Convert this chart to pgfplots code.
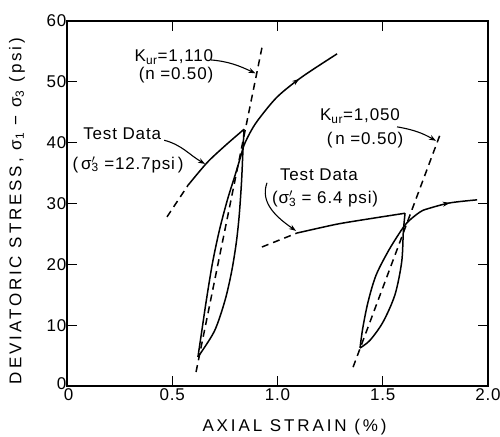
\documentclass[border=0pt]{standalone}
\usepackage{fontspec}
\setmainfont{Liberation Sans}
\newfontfamily\lbl[LetterSpace=17]{Liberation Sans}
\newfontfamily\tck[LetterSpace=5]{Liberation Sans}
\newfontfamily\ann[LetterSpace=5]{Liberation Sans}
\usepackage{pgfplots}
\pgfplotsset{compat=1.18}
\usetikzlibrary{arrows.meta,decorations.markings}
\newcommand\sigp{σ\rlap{$'$}\textsubscript{3}}
\begin{document}
\begin{tikzpicture}
\begin{axis}[
  scale only axis, width=421pt, height=365pt,
  xmin=0,xmax=2,ymin=0,ymax=60,
  xtick={0,0.5,1,1.5,2}, xticklabels={\hspace{3pt}0,0.5,1.0,1.5,2.0},
  ytick={0,10,20,30,40,50,60}, yticklabels={\raisebox{4pt}{0},10,20,30,40,50,60},
  tick align=inside, major tick length=10pt,
  axis line style={line width=1.7pt},
  every tick/.style={black, line width=1.3pt},
  tick label style={font=\tck\fontsize{17}{19}\selectfont},
  xticklabel style={yshift=-2pt},
  xlabel={AXIAL STRAIN (\%)},
  ylabel={DEVIATORIC STRESS, σ\textsubscript{1} − σ\textsubscript{3} (psi)},
  every axis x label/.style={at={(axis description cs:0.5404,-0.1123)}, anchor=center, font=\lbl\fontsize{17}{20}\selectfont},
  every axis y label/.style={at={(axis description cs:-0.1188,0.4795)}, rotate=90, anchor=center, font=\lbl\fontsize{17}{20}\selectfont},
  clip=false,
  every axis plot/.append style={line width=1.5pt, black},
  nodes={font=\ann\fontsize{17}{20}\selectfont, inner sep=0.5pt},
]
% K_ur lines
\addplot[dash pattern=on 7pt off 5pt] coordinates {(0.613,2.3) (0.926,55.6)};
\addplot[dash pattern=on 7pt off 5pt] coordinates {(1.359,3.1) (1.772,41.3)};
% Test 1 (12.7 psi)
\addplot[dash pattern=on 7pt off 5pt] coordinates {(0.475,27.8) (0.575,33.0)};
\addplot[smooth] coordinates {(0.575,33.0) (0.665,36.7) (0.751,39.5) (0.841,42.2)};
\addplot[smooth] coordinates {(0.841,42.2) (0.836,38.8) (0.829,33.5) (0.818,28.0) (0.804,23.5) (0.782,18.8) (0.750,14.0) (0.700,9.0) (0.622,4.77)};
\addplot[smooth, postaction={decorate}, decoration={markings, mark=at position 0.87 with {\arrow{Stealth[length=7pt,width=5pt]}}}] coordinates {(0.622,4.77) (0.641,9.2) (0.662,14.1) (0.691,20.2) (0.724,25.6) (0.762,30.6) (0.798,34.6) (0.824,37.6) (0.840,39.5) (0.869,41.6) (0.907,43.7) (0.998,47.5) (1.116,50.8) (1.283,54.6)};
% Test 2 (6.4 psi)
\addplot[dash pattern=on 7pt off 5pt] coordinates {(0.926,22.85) (1.093,25.15)};
\addplot[smooth] coordinates {(1.093,25.15) (1.202,26.0) (1.297,26.7) (1.439,27.5) (1.606,28.4)};
\addplot[smooth] coordinates {(1.606,28.4) (1.598,25.5) (1.590,20.4) (1.558,15.0) (1.501,10.5) (1.439,7.5) (1.392,6.25)};
\addplot[smooth, postaction={decorate}, decoration={markings, mark=at position 0.87 with {\arrow{Stealth[length=7pt,width=5pt]}}}] coordinates {(1.392,6.25) (1.405,9.5) (1.430,13.8) (1.468,18.2) (1.530,22.4) (1.596,26.0) (1.629,27.3) (1.677,28.6) (1.71,29.1) (1.819,30.1) (1.948,30.6)};
% annotations
\node at (axis cs:0.508,54.1) {K\textsubscript{ur}=1,110};
\node at (axis cs:0.518,51.1) {(n =0.50)};
\node at (axis cs:0.262,41.4) {Test Data};
\node at (axis cs:0.290,36.4) {(\,\sigp\ =12.7psi\,)};
\node at (axis cs:1.392,44.4) {K\textsubscript{ur}=1,050};
\node at (axis cs:1.416,40.4) {(\,n =0.50)};
\node at (axis cs:1.197,34.7) {Test Data};
\node at (axis cs:1.226,30.7) {(\sigp\ = 6.4 psi)};
\draw[line width=1.1pt, -{Stealth[length=7pt,width=5pt]}] (axis cs:0.684,53.6) to[out=-5,in=155] (axis cs:0.895,51.4);
\draw[line width=1.1pt, -{Stealth[length=7pt,width=5pt]}] (axis cs:0.462,40.4) to[out=-15,in=150] (axis cs:0.656,36.5);
\draw[line width=1.1pt, -{Stealth[length=7pt,width=5pt]}] (axis cs:1.568,42.6) to[out=-10,in=150] (axis cs:1.753,40.3);
\draw[line width=1.1pt, -{Stealth[length=7pt,width=5pt]}] (axis cs:0.950,33.4) to[out=-110,in=145] (axis cs:1.088,25.5);
\end{axis}
\pgfresetboundingbox
\useasboundingbox (-67pt,-50pt) rectangle (433pt,386pt);
\end{tikzpicture}
\end{document}
